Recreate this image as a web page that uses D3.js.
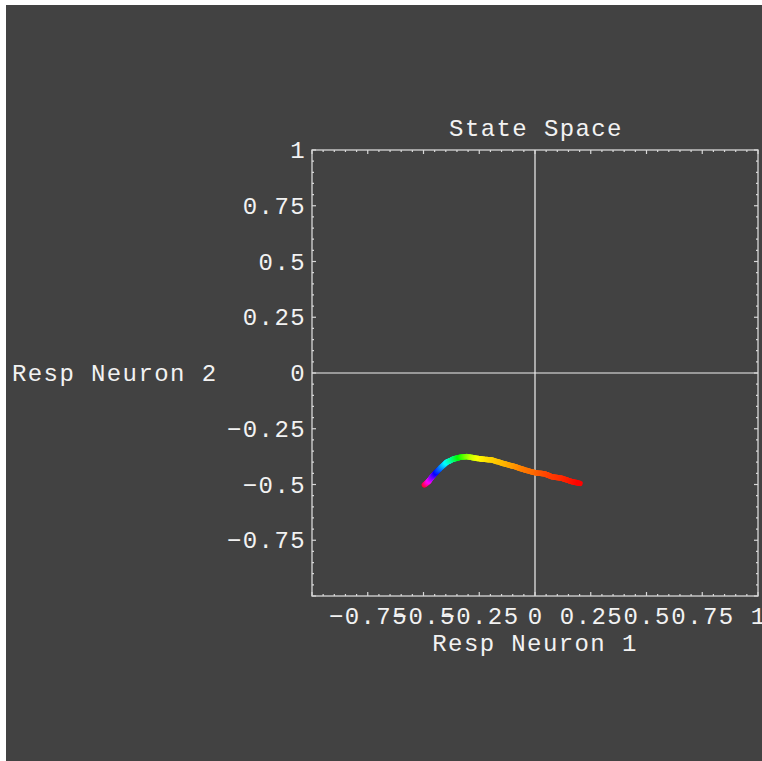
<!DOCTYPE html>
<html>
<head>
<meta charset="utf-8">
<script src="https://cdn.jsdelivr.net/npm/d3@7"></script>
<style>
  body { margin: 0; background: #fff; }
  text { font-family: "Courier New", Courier, "Nimbus Mono PS", "Liberation Mono", monospace; fill: #f2f2f2; }
</style>
</head>
<body>
<div id="chart"></div>
<script>
// trajectory in state space (resp neuron 1, resp neuron 2) and hue along it
var respN1 = [-0.496, -0.478, -0.461, -0.441, -0.418, -0.396, -0.366, -0.336, -0.306, -0.277,
              -0.239, -0.194, -0.135, -0.090, -0.045, 0.000, 0.045, 0.075, 0.120, 0.165, 0.202];
var respN2 = [-0.502, -0.487, -0.465, -0.443, -0.420, -0.400, -0.386, -0.378, -0.375, -0.380,
              -0.386, -0.390, -0.408, -0.420, -0.435, -0.447, -0.453, -0.465, -0.472, -0.487, -0.495];
var hues   = [0.98, 0.86, 0.76, 0.66, 0.58, 0.50, 0.42, 0.33, 0.26, 0.20,
              0.16, 0.14, 0.12, 0.10, 0.08, 0.07, 0.05, 0.04, 0.03, 0.015, 0.0];

var xTickLabels = ["-0.75", "-0.5", "-0.25", "0", "0.25", "0.5", "0.75", "1"];
var yTickLabels = ["1", "0.75", "0.5", "0.25", "0", "-0.25", "-0.5", "-0.75"];

var width = 762, height = 761;
var pLeft = 312, pRight = 758, pTop = 150, pBottom = 596;

var svg = d3.select("#chart").append("svg")
    .attr("width", width)
    .attr("height", height);

svg.append("rect")
    .attr("x", 6).attr("y", 5)
    .attr("width", width - 6).attr("height", height - 5)
    .attr("fill", "#424242");

var x = d3.scaleLinear().domain([-1, 1]).range([pLeft, pRight]);
var y = d3.scaleLinear().domain([-1, 1]).range([pBottom, pTop]);

var g = svg.append("g");

// zero lines
g.append("line")
    .attr("x1", x(0)).attr("x2", x(0))
    .attr("y1", pTop).attr("y2", pBottom)
    .attr("stroke", "#f0f0f0").attr("stroke-width", 1.2);
g.append("line")
    .attr("x1", pLeft).attr("x2", pRight)
    .attr("y1", y(0)).attr("y2", y(0))
    .attr("stroke", "#f0f0f0").attr("stroke-width", 1.2);

// ticks every 0.05, major every 0.25
var ticks = d3.range(-20, 21).map(function(i) { return i / 20; });
function tickLen(v) { return Math.abs(Math.round(v * 4) - v * 4) < 1e-6 ? 4 : 2; }

var tg = g.append("g").attr("stroke", "#d8d8d8").attr("stroke-width", 1.2);
ticks.forEach(function(v) {
    var L = tickLen(v);
    tg.append("line").attr("x1", x(v)).attr("x2", x(v)).attr("y1", pTop).attr("y2", pTop + L);
    tg.append("line").attr("x1", x(v)).attr("x2", x(v)).attr("y1", pBottom).attr("y2", pBottom - L);
    tg.append("line").attr("y1", y(v)).attr("y2", y(v)).attr("x1", pLeft).attr("x2", pLeft + L);
    tg.append("line").attr("y1", y(v)).attr("y2", y(v)).attr("x1", pRight).attr("x2", pRight - L);
});

// frame
g.append("rect")
    .attr("x", pLeft).attr("y", pTop)
    .attr("width", pRight - pLeft).attr("height", pBottom - pTop)
    .attr("fill", "none")
    .attr("stroke", "#d8d8d8").attr("stroke-width", 1.3);

// trajectory, coloured by hue
var traj = g.append("g")
    .attr("stroke-width", 5.5)
    .attr("stroke-linecap", "round");
for (var i = 0; i < respN1.length - 1; i++) {
    var steps = 6;
    for (var s = 0; s < steps; s++) {
        var t0 = s / steps, t1 = (s + 1) / steps, tm = (s + 0.5) / steps;
        var h = hues[i] + (hues[i + 1] - hues[i]) * tm;
        traj.append("line")
            .attr("x1", x(respN1[i] + (respN1[i + 1] - respN1[i]) * t0))
            .attr("y1", y(respN2[i] + (respN2[i + 1] - respN2[i]) * t0))
            .attr("x2", x(respN1[i] + (respN1[i + 1] - respN1[i]) * t1))
            .attr("y2", y(respN2[i] + (respN2[i + 1] - respN2[i]) * t1))
            .attr("stroke", d3.hsl(h * 360, 1, 0.5));
    }
}

var fs = "24px", ls = "1.4px";
function fmt(s) { return s.replace("-", "\u2212"); }

// bottom tick labels
g.selectAll(".xl")
    .data(xTickLabels)
    .enter().append("text")
    .attr("x", function(d) { return x(+d) + 0.7; })
    .attr("y", 624)
    .attr("text-anchor", "middle")
    .style("font-size", fs).style("letter-spacing", ls)
    .text(fmt);

// left tick labels
g.selectAll(".yl")
    .data(yTickLabels)
    .enter().append("text")
    .attr("x", 306)
    .attr("y", function(d) { return y(+d) + 8; })
    .attr("text-anchor", "end")
    .style("font-size", fs).style("letter-spacing", ls)
    .text(fmt);

// titles
svg.append("text")
    .attr("x", 536).attr("y", 136)
    .attr("text-anchor", "middle")
    .style("font-size", fs).style("letter-spacing", ls)
    .text("State Space");

svg.append("text")
    .attr("x", 535).attr("y", 651)
    .attr("text-anchor", "middle")
    .style("font-size", fs).style("letter-spacing", ls)
    .text("Resp Neuron 1");

svg.append("text")
    .attr("x", 12).attr("y", 381)
    .style("font-size", fs).style("letter-spacing", ls)
    .text("Resp Neuron 2");
</script>
</body>
</html>
